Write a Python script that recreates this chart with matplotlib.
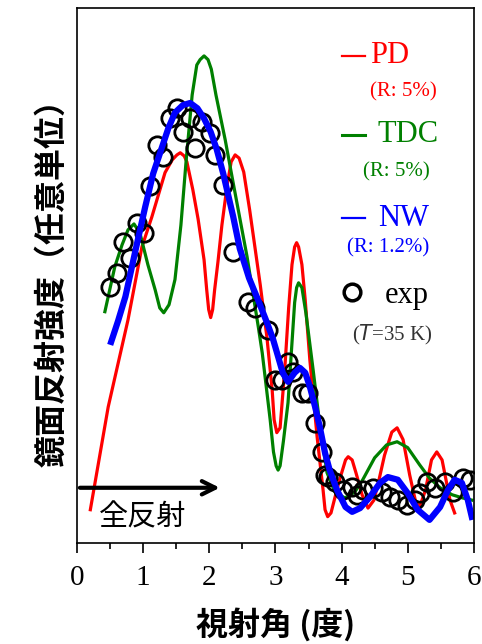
import matplotlib
matplotlib.use('Agg')
import matplotlib.pyplot as plt

# experiment (open circles)
exp_x = [0.50, 0.60, 0.70, 0.80, 0.91, 1.01, 1.10, 1.21, 1.30, 1.41, 1.51, 1.60, 1.71, 1.78, 1.89,
         2.01, 2.09, 2.21, 2.36, 2.58, 2.69, 2.89, 2.99, 3.10, 3.19, 3.26, 3.40, 3.49, 3.60, 3.70,
         3.75, 3.79, 3.90, 4.02, 4.16, 4.23, 4.32, 4.47, 4.61, 4.73, 4.85, 4.99, 5.11, 5.18, 5.29,
         5.41, 5.56, 5.68, 5.83, 5.94]
exp_y = [4.79, 5.05, 5.63, 5.33, 5.98, 5.79, 6.67, 7.44, 7.21, 7.94, 8.13, 7.68, 7.94, 7.38, 7.87,
         7.66, 7.25, 6.69, 5.44, 4.50, 4.39, 3.98, 3.05, 3.05, 3.38, 3.20, 2.80, 2.80, 2.24, 1.70,
         1.27, 1.23, 1.14, 0.99, 1.05, 0.90, 0.99, 1.03, 0.95, 0.86, 0.80, 0.71, 0.80, 0.93, 1.14,
         1.03, 1.14, 0.95, 1.21, 1.18]

# PD model
pd_x = [0.20, 0.47, 0.77, 0.98, 1.13, 1.33, 1.44, 1.51, 1.56, 1.62, 1.66, 1.75, 1.83, 1.92, 1.96,
        1.99, 2.02, 2.05, 2.08, 2.13, 2.19, 2.27, 2.33, 2.39, 2.45, 2.52, 2.61, 2.77, 2.87, 2.95,
        2.98, 3.02, 3.07, 3.14, 3.20, 3.25, 3.29, 3.32, 3.35, 3.40, 3.45, 3.52, 3.63, 3.72, 3.75,
        3.79, 3.84, 3.90, 3.97, 4.06, 4.10, 4.16, 4.22, 4.31, 4.40, 4.49, 4.57, 4.65, 4.76, 4.84,
        4.93, 5.03, 5.12, 5.18, 5.27, 5.36, 5.44, 5.52, 5.64, 5.71]
pd_y = [0.62, 2.54, 4.17, 5.53, 6.09, 6.92, 7.16, 7.25, 7.29, 7.23, 7.12, 6.60, 6.05, 5.29, 4.73,
        4.36, 4.21, 4.36, 4.73, 5.25, 5.94, 6.69, 7.12, 7.25, 7.19, 6.93, 6.22, 4.82, 3.85, 2.86,
        2.30, 2.06, 2.15, 3.23, 4.40, 5.20, 5.53, 5.61, 5.53, 5.20, 4.54, 3.42, 1.98, 0.99, 0.62,
        0.49, 0.56, 0.85, 1.18, 1.55, 1.61, 1.55, 1.30, 0.90, 0.65, 0.80, 1.20, 1.64, 2.07, 2.15,
        1.93, 1.27, 0.77, 0.67, 0.99, 1.55, 1.70, 1.55, 0.80, 0.56]

# TDC model
tdc_x = [0.42, 0.57, 0.68, 0.77, 0.86, 0.95, 1.07, 1.18, 1.25, 1.31, 1.39, 1.48, 1.57, 1.65, 1.74,
         1.81, 1.86, 1.92, 1.98, 2.03, 2.10, 2.24, 2.36, 2.57, 2.74, 2.80, 2.92, 2.97, 3.01, 3.04,
         3.07, 3.12, 3.19, 3.29, 3.32, 3.35, 3.40, 3.46, 3.57, 3.67, 3.78, 3.90, 4.05, 4.20, 4.32,
         4.50, 4.68, 4.84, 5.00, 5.18, 5.33, 5.49, 5.67, 5.83, 5.97]
tdc_y = [4.32, 5.16, 5.57, 5.85, 5.96, 5.79, 5.20, 4.73, 4.39, 4.30, 4.45, 4.92, 5.94, 7.16, 8.37,
         8.93, 9.03, 9.10, 9.03, 8.85, 8.37, 7.53, 6.73, 5.35, 4.04, 3.55, 2.30, 1.70, 1.44, 1.36,
         1.44, 1.90, 2.62, 4.49, 4.77, 4.86, 4.77, 4.30, 3.23, 2.21, 1.31, 0.95, 0.84, 0.95, 1.18,
         1.59, 1.83, 1.89, 1.78, 1.46, 1.21, 1.03, 0.90, 0.84, 0.80]

# NW model
nw_x = [0.50, 0.62, 0.73, 0.88, 1.03, 1.15, 1.28, 1.38, 1.48, 1.60, 1.71, 1.82, 1.92, 2.02, 2.11,
        2.21, 2.36, 2.46, 2.60, 2.75, 2.87, 2.96, 3.04, 3.11, 3.19, 3.29, 3.37, 3.45, 3.52, 3.60,
        3.67, 3.75, 3.82, 3.93, 4.06, 4.16, 4.28, 4.43, 4.58, 4.70, 4.85, 5.00, 5.15, 5.33, 5.49,
        5.61, 5.71, 5.82, 5.91, 5.98]
nw_y = [3.70, 4.15, 4.60, 5.45, 6.28, 6.90, 7.38, 7.75, 8.04, 8.18, 8.22, 8.12, 7.93, 7.68, 7.36,
        6.90, 6.10, 5.50, 4.95, 4.50, 4.12, 3.82, 3.48, 3.18, 3.01, 3.18, 3.27, 3.18, 2.92, 2.54,
        2.17, 1.68, 1.36, 0.99, 0.67, 0.58, 0.65, 0.86, 1.12, 1.23, 1.18, 0.93, 0.62, 0.43, 0.67,
        0.99, 1.18, 1.12, 0.80, 0.43]

plt.rcParams['font.family'] = ['Liberation Serif', 'Noto Sans CJK JP']
cjk = ['Noto Sans CJK JP', 'DejaVu Sans']

fig = plt.figure(figsize=[4.82, 6.44], dpi=100)
ax = fig.add_axes([0.160, 0.157, 0.823, 0.831])

ax.plot(pd_x, pd_y, color='red', lw=2.3, solid_joinstyle='round')
ax.plot(tdc_x, tdc_y, color='green', lw=2.3, solid_joinstyle='round')
ax.plot(exp_x, exp_y, 'o', mfc='none', mec='black', ms=12.5, mew=2)
ax.plot(nw_x, nw_y, color='blue', lw=4.5, solid_joinstyle='round', solid_capstyle='butt')

ax.set_xlim(0, 6)
ax.set_ylim(0, 10)
ax.set_yticks([])
ax.set_xticks(range(7))
ax.set_xticks([0.5, 1.5, 2.5, 3.5, 4.5, 5.5], minor=True)
ax.tick_params(axis='x', which='major', direction='out', length=7, width=1.2, labelsize=21, pad=9)
ax.tick_params(axis='x', which='minor', direction='out', length=4, width=1.2)
for s in ax.spines.values():
    s.set_linewidth(1.2)

ax.set_xlabel('視射角 (度)', family=cjk, fontsize=23, fontweight='bold', labelpad=12)
ax.set_ylabel('鏡面反射強度（任意単位）', family=cjk, fontsize=23, fontweight='bold', labelpad=6)

# total reflection arrow
ax.annotate('', xy=(2.2, 1.03), xytext=(0, 1.03),
            arrowprops=dict(arrowstyle='->', color='black', lw=3, mutation_scale=24))
ax.text(0.33, 0.47, '全反射', family=cjk, fontsize=21, va='center', ha='left')

# legend-like labels
tr = ax.transAxes
ax.plot([0.668, 0.726], [0.910, 0.910], color='red', lw=1.6, transform=tr)
ax.text(0.738, 0.910, 'PD', transform=tr, color='red', fontsize=22, va='center')
ax.text(0.738, 0.843, '(R: 5%)', transform=tr, color='red', fontsize=15, va='center')
ax.plot([0.668, 0.726], [0.763, 0.763], color='green', lw=2.2, transform=tr)
ax.text(0.758, 0.763, 'TDC', transform=tr, color='green', fontsize=22, va='center')
ax.text(0.720, 0.693, '(R: 5%)', transform=tr, color='green', fontsize=15, va='center')
ax.plot([0.668, 0.726], [0.607, 0.607], color='blue', lw=1.6, transform=tr)
ax.text(0.758, 0.607, 'NW', transform=tr, color='blue', fontsize=22, va='center')
ax.text(0.680, 0.551, '(R: 1.2%)', transform=tr, color='blue', fontsize=15, va='center')
ax.plot([0.693], [0.469], 'o', transform=tr, mfc='none', mec='black', ms=12, mew=2.5)
ax.text(0.776, 0.462, 'exp', transform=tr, color='black', fontsize=22, va='center')
ax.text(0.693, 0.389, '($T$=35 K)', transform=tr, color='#333333', fontsize=15, va='center')

fig.savefig('out.png', dpi=100)
